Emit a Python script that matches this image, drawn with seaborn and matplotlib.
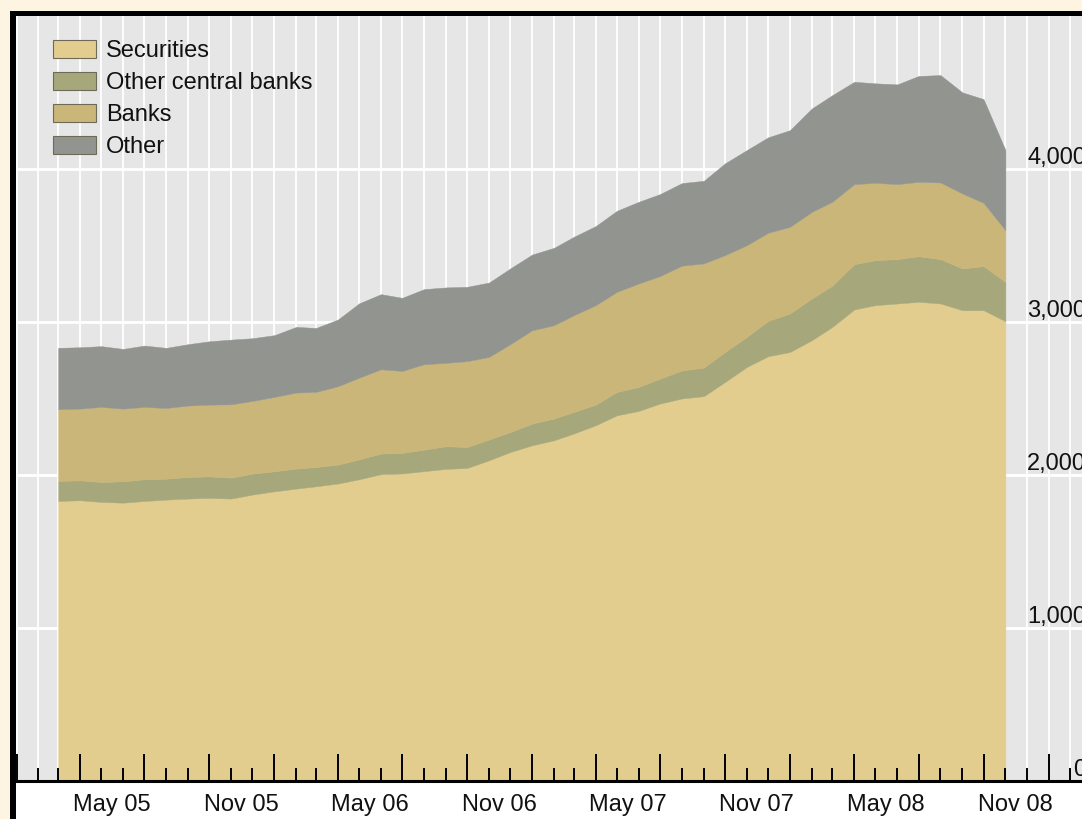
import numpy as np
import pandas as pd
import matplotlib
matplotlib.use("Agg")
import matplotlib.pyplot as plt
import matplotlib.dates as mdates
from matplotlib.patches import Rectangle, Patch
import seaborn as sns

W, H = 1082, 819

# monthly observations, end-Feb 2005 to end-Oct 2008 (plotted at month starts)
months = pd.date_range("2005-03-01", "2008-11-01", freq="MS")

securities = [1830, 1835, 1824, 1819, 1830, 1839, 1846, 1850, 1846, 1872,
              1893, 1911, 1926, 1944, 1972, 2005, 2010, 2025, 2040, 2046,
              2096, 2150, 2194, 2227, 2271, 2325, 2390, 2419, 2467, 2500,
              2515, 2608, 2706, 2776, 2804, 2881, 2968, 3082, 3110, 3121,
              3132, 3121, 3077, 3077, 3005]
other_cbs = [131, 130, 130, 140, 142, 137, 141, 141, 137, 137,
             131, 131, 126, 124, 130, 135, 134, 141, 148, 137,
             136, 131, 142, 142, 141, 135, 153, 157, 163, 183,
             187, 196, 197, 231, 252, 273, 270, 296, 294, 290,
             298, 290, 273, 288, 257]
banks = [469, 469, 491, 475, 473, 462, 467, 469, 479, 475,
         486, 497, 491, 512, 534, 551, 536, 558, 545, 561,
         540, 574, 610, 610, 632, 650, 654, 676, 670, 685,
         681, 633, 599, 576, 566, 566, 548, 523, 506, 490,
         486, 501, 490, 414, 338]
other = [401, 401, 397, 390, 401, 393, 401, 414, 423, 410,
         404, 429, 418, 436, 486, 491, 478, 491, 493, 486,
         486, 495, 495, 506, 513, 517, 530, 534, 536, 540,
         540, 600, 622, 624, 632, 676, 697, 669, 650, 652,
         692, 702, 661, 678, 524]

series_names = ["Securities", "Other central banks", "Banks", "Other"]
series_colors = ["#e2cd8f", "#a6a87b", "#cbb67a", "#929490"]

x_labels = ["May 05", "Nov 05", "May 06", "Nov 06",
            "May 07", "Nov 07", "May 08", "Nov 08"]
x_label_dates = pd.to_datetime(["2005-05-16", "2005-11-15", "2006-05-16",
                                "2006-11-15", "2007-05-16", "2007-11-15",
                                "2008-05-16", "2008-11-15"])
y_ticks = [0, 1000, 2000, 3000, 4000]

sns.set_theme(style="white")
plt.rcParams["font.family"] = ["Liberation Sans", "DejaVu Sans"]

fig = plt.figure(figsize=(W / 100, H / 100), dpi=100, facecolor="#fdf5e2")

# black frame and white panel (run off the right and bottom of the picture)
fig.patches.append(Rectangle((10 / W, -0.1), 1.2, (H - 11) / H + 0.1,
                             transform=fig.transFigure, facecolor="black",
                             edgecolor="none", zorder=-2))
fig.patches.append(Rectangle((16 / W, -0.1), 1.2, (H - 16) / H + 0.1,
                             transform=fig.transFigure, facecolor="white",
                             edgecolor="none", zorder=-1))

ax = fig.add_axes([16.5 / W, 38 / H, (W - 16.5) / W, 765 / H])
ax.set_facecolor("#e6e6e6")

jan05 = mdates.date2num(pd.Timestamp("2005-01-01"))
jan09 = mdates.date2num(pd.Timestamp("2009-01-01"))
x_right = jan05 + (W - 16.5) / (1048.5 - 16.5) * (jan09 - jan05)

# white gridlines drawn below the areas (monthly verticals, 1,000 horizontals)
grid_months = pd.date_range("2005-01-01", "2009-03-01", freq="MS")
ax.vlines(grid_months, 0, 5000, colors="white", linewidth=1.3, zorder=0.2)
ax.hlines(y_ticks, jan05, x_right, colors="white", linewidth=2, zorder=0.2)

polys = ax.stackplot(months, securities, other_cbs, banks, other,
                     colors=series_colors, labels=series_names, linewidth=0,
                     zorder=1)
for p in polys:
    p.set_edgecolor(p.get_facecolor())
    p.set_linewidth(0.3)

ax.set_xlim(jan05, x_right)
ax.set_ylim(0, 5000)
ax.grid(False)

# x axis: long ticks at quarters, short ones at months, all pointing up
ax.xaxis.set_major_locator(mdates.MonthLocator(bymonth=[1, 4, 7, 10]))
ax.xaxis.set_minor_locator(mdates.MonthLocator())
ax.tick_params(axis="x", which="major", direction="in", length=19.5,
               width=1.4, color="black", labelbottom=False, bottom=True)
ax.tick_params(axis="x", which="minor", direction="in", length=9.5,
               width=1.4, color="black", labelbottom=False, bottom=True)
for d, s in zip(x_label_dates, x_labels):
    ax.text(d, -30 / 765, s, transform=ax.get_xaxis_transform(),
            ha="center", va="baseline", fontsize=17, color="#111111",
            clip_on=False)

# y axis labels sit on the right, just above each gridline
ax.set_yticks(y_ticks)
ax.set_yticklabels([f"{v:,}" for v in y_ticks])
ax.yaxis.tick_right()
ax.tick_params(axis="y", length=0, pad=3, labelsize=17, labelcolor="#111111")
for lbl in ax.get_yticklabels():
    lbl.set_ha("right")
    lbl.set_va("bottom")

ax.set_axisbelow(False)

for side in ["top", "left", "right"]:
    ax.spines[side].set_visible(False)
ax.spines["bottom"].set_color("black")
ax.spines["bottom"].set_linewidth(2.2)

handles = [Patch(facecolor=c, edgecolor="#6e6a58", linewidth=0.8)
           for c in series_colors]
ax.legend(handles, series_names, loc="upper left",
          bbox_to_anchor=(36.5 / (W - 16.5), 1 - 24 / 765),
          frameon=False, fontsize=17, handlelength=1.8, handleheight=0.78,
          handletextpad=0.45, labelspacing=0.42, borderpad=0,
          borderaxespad=0, labelcolor="#111111")

fig.savefig("out.png", dpi=100, facecolor=fig.get_facecolor())
